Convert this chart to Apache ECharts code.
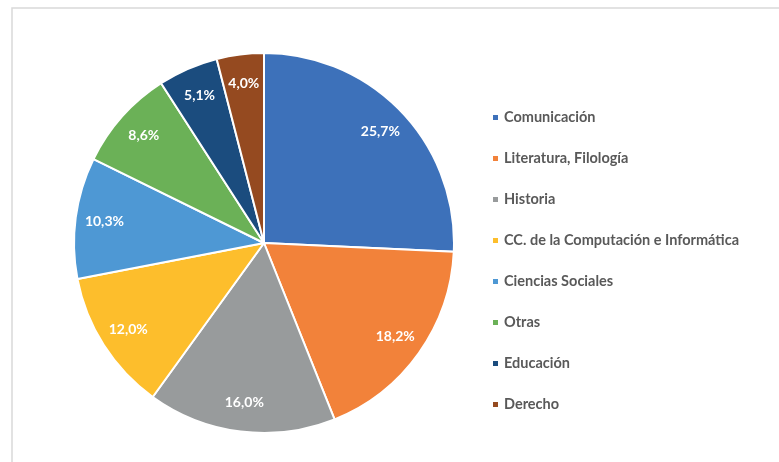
<!DOCTYPE html>
<html>
<head>
<meta charset="utf-8">
<script src="https://cdn.jsdelivr.net/npm/echarts@6/dist/echarts.min.js"></script>
<style>
	html, body { margin: 0; padding: 0; background: #fff; }
	#chart { width: 779px; height: 462px; }
</style>
</head>
<body>
<div id="chart"></div>
<script>
"use strict";

var categories = ['Comunicación', 'Literatura, Filología', 'Historia', 'CC. de la Computación e Informática', 'Ciencias Sociales', 'Otras', 'Educación', 'Derecho'];
var shares = [25.7, 18.2, 16.0, 12.0, 10.3, 8.6, 5.1, 4.0];
var colors = ['#3d71ba', '#f2823a', '#989b9c', '#fdbe2c', '#4e98d4', '#6bb157', '#1b4c7e', '#954a20'];

var FONT = 'Lato';

function pieData() {
	var data = [];
	for (var index = 0; index < categories.length; index++) {
		data.push({ name: categories[index], value: shares[index] });
	}
	return data;
}

function percentText(params) {
	return params.value.toFixed(1).replace('.', ',') + '%';
}

var chart = echarts.init(document.getElementById('chart'));

chart.setOption({
	animation: false,
	color: colors,
	graphic: [{
		type: 'rect',
		shape: { x: 12, y: 8, width: 800, height: 500 },
		style: { fill: 'none', stroke: '#d9d9d9', lineWidth: 1.5 },
		silent: true
	}],
	legend: {
		orient: 'vertical',
		left: 491,
		top: 109,
		padding: 0,
		icon: 'rect',
		itemWidth: 7,
		itemHeight: 7,
		itemGap: 24,
		textStyle: {
			fontFamily: FONT,
			fontSize: 14.5,
			fontWeight: 'bold',
			color: '#595959',
			lineHeight: 17
		},
		data: categories
	},
	series: [{
		name: 'Share',
		type: 'pie',
		center: [264, 243],
		radius: [0, 190],
		startAngle: 90,
		clockwise: true,
		itemStyle: { borderColor: '#fff', borderWidth: 2 },
		label: { show: false },
		labelLine: { show: false },
		emphasis: { disabled: true },
		data: pieData()
	}, {
		name: 'Labels',
		type: 'pie',
		center: [264, 243],
		radius: [126, 190],
		startAngle: 90,
		clockwise: true,
		silent: true,
		legendHoverLink: false,
		itemStyle: { color: 'rgba(0,0,0,0)' },
		label: {
			show: true,
			position: 'inside',
			formatter: percentText,
			fontFamily: FONT,
			fontSize: 14,
			fontWeight: 'bold',
			color: '#fff'
		},
		labelLine: { show: false },
		emphasis: { disabled: true },
		data: pieData()
	}]
});
</script>
</body>
</html>
